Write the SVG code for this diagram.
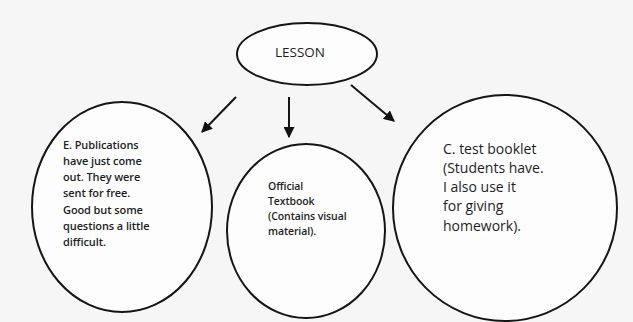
<svg xmlns="http://www.w3.org/2000/svg" width="633" height="322" viewBox="0 0 633 322">
<defs>
<marker id="ah" viewBox="0 0 10 10" refX="9" refY="5" markerWidth="5.5" markerHeight="5.5" orient="auto" markerUnits="strokeWidth">
<path d="M0,0 L10,5 L0,10 z" fill="#111"/>
</marker>
<style>
.shape{fill:#fdfdfd;stroke:#151515;stroke-width:2}
.t{font-family:"Open Sans","Liberation Sans",sans-serif;fill:#1e1e1e}
.conn{stroke:#151515;stroke-width:2;fill:none;marker-end:url(#ah)}
</style>
</defs>
<rect width="633" height="322" fill="#f6f6f6"/>
<g id="lesson">
<ellipse class="shape" cx="307" cy="54" rx="70" ry="31"/>
<text class="t" x="300" y="57" font-size="13.5" text-anchor="middle">LESSON</text>
</g>
<g id="publications">
<ellipse class="shape" cx="122" cy="207" rx="90" ry="105"/>
<text class="t" font-size="11" font-weight="600" letter-spacing="-0.1">
<tspan x="63" y="149">E. Publications</tspan>
<tspan x="63" y="165">have just come</tspan>
<tspan x="63" y="181">out. They were</tspan>
<tspan x="63" y="197">sent for free.</tspan>
<tspan x="63" y="214">Good but some</tspan>
<tspan x="63" y="230">questions a little</tspan>
<tspan x="63" y="246">difficult.</tspan>
</text>
</g>
<g id="textbook">
<ellipse class="shape" cx="306" cy="231" rx="79" ry="87"/>
<text class="t" font-size="10.5" font-weight="600" letter-spacing="-0.1">
<tspan x="268" y="190">Official</tspan>
<tspan x="268" y="205">Textbook</tspan>
<tspan x="268" y="220">(Contains visual</tspan>
<tspan x="268" y="235">material).</tspan>
</text>
</g>
<g id="testbooklet">
<ellipse class="shape" cx="505" cy="208" rx="112" ry="113"/>
<text class="t" font-size="14">
<tspan x="443" y="154">C. test booklet</tspan>
<tspan x="443" y="173">(Students have.</tspan>
<tspan x="443" y="192">I also use it</tspan>
<tspan x="443" y="211">for giving</tspan>
<tspan x="443" y="231">homework).</tspan>
</text>
</g>
<g id="connectors">
<line class="conn" x1="236" y1="97" x2="202" y2="132"/>
<line class="conn" x1="289" y1="97" x2="289" y2="137"/>
<line class="conn" x1="351" y1="85" x2="394" y2="121"/>
</g>
</svg>
